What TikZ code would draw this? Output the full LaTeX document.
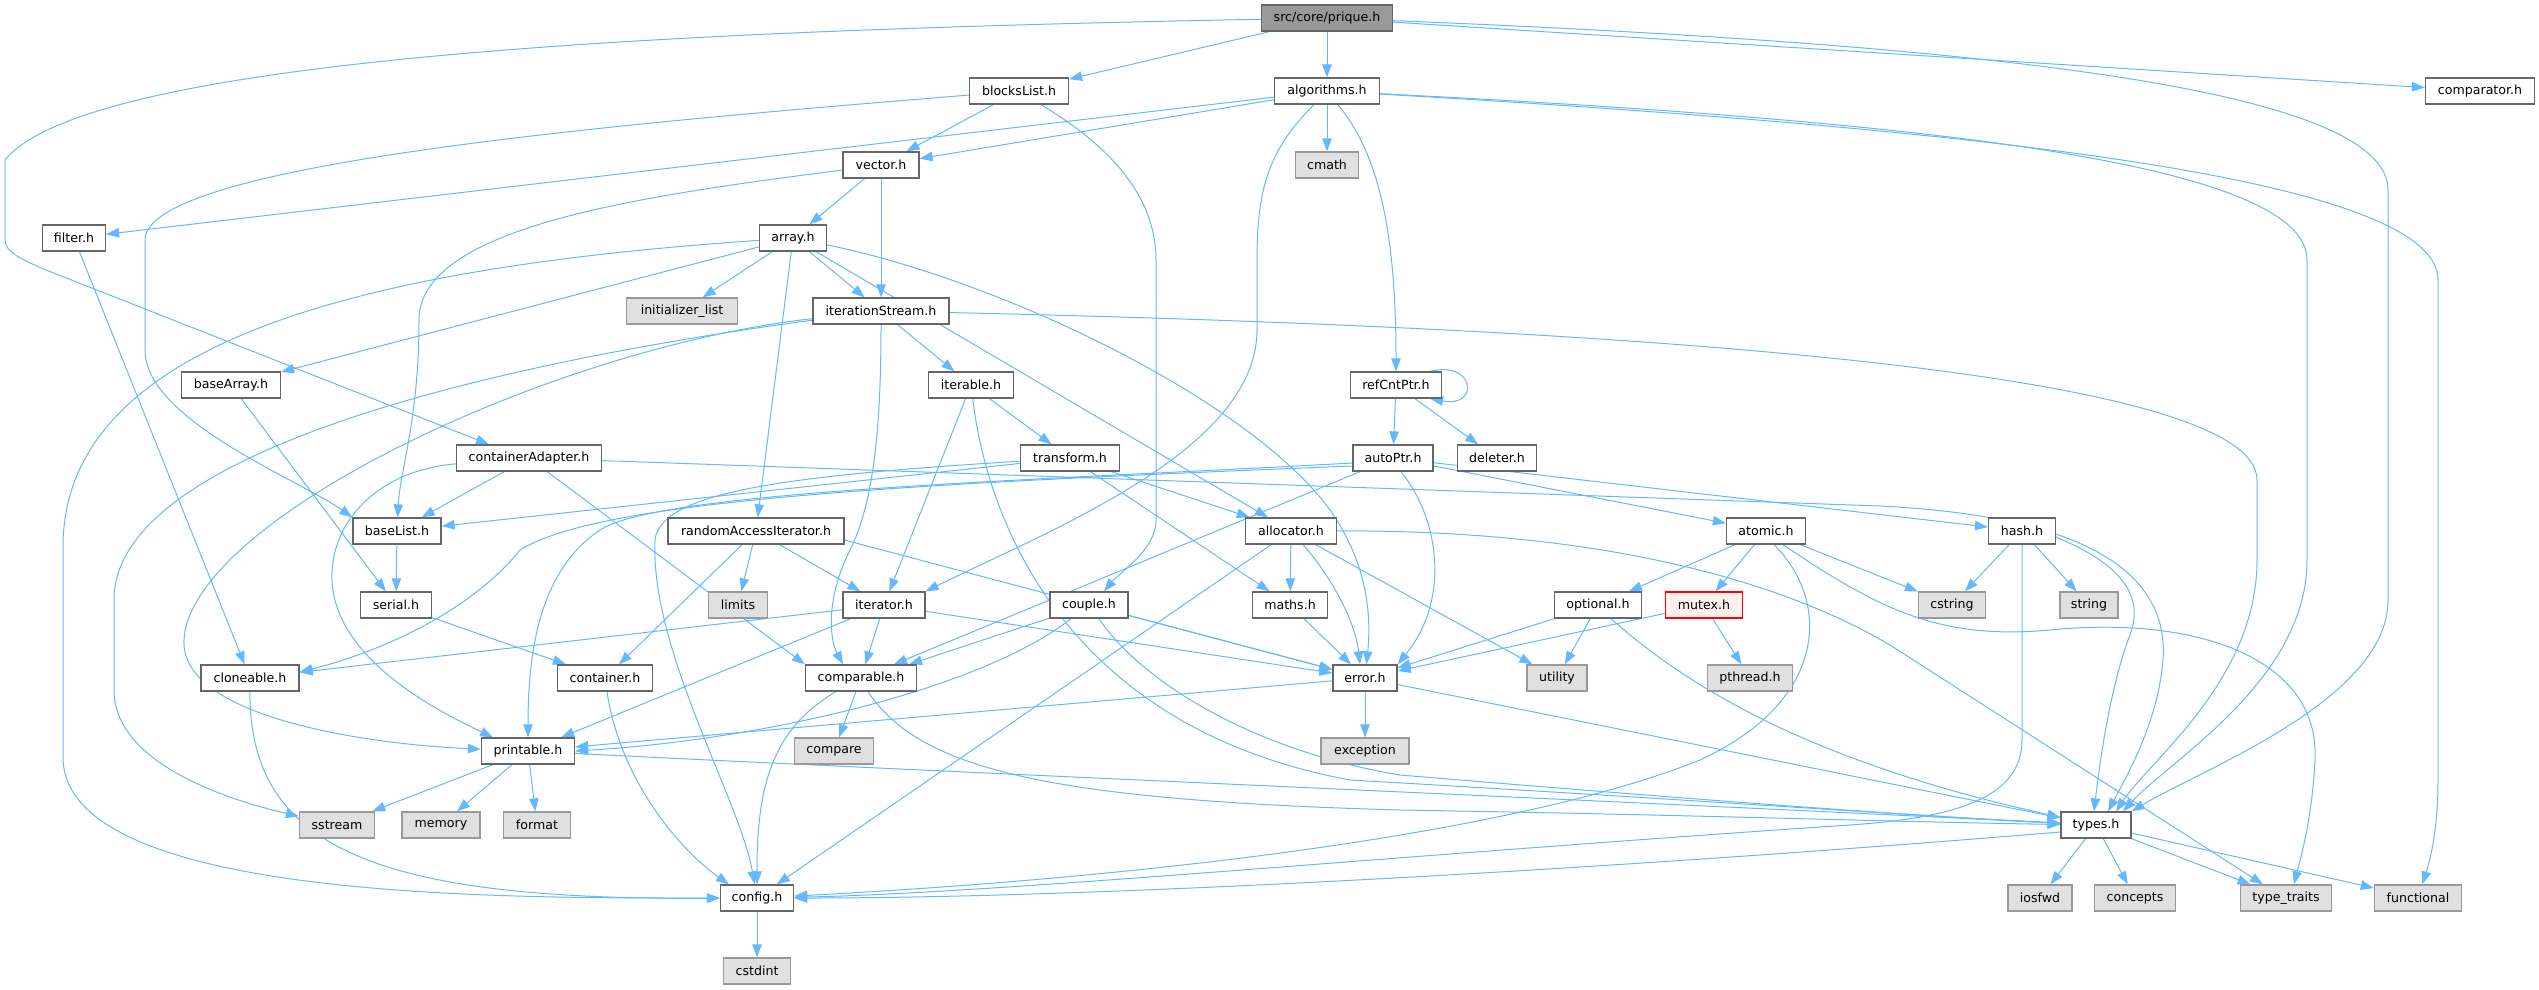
\documentclass[tikz,border=0pt]{standalone}
\usepackage{fontspec}
\setmainfont{DejaVu Sans}
\usepackage{xcolor}
\usetikzlibrary{arrows.meta}
\pgfdeclarelayer{background}
\pgfsetlayers{background,main}
\definecolor{edgeblue}{HTML}{63B8FF}
\definecolor{boxgray}{HTML}{666666}
\definecolor{sysgray}{HTML}{999999}
\definecolor{sysfill}{HTML}{E0E0E0}
\definecolor{rootfill}{HTML}{999999}
\definecolor{warnfill}{HTML}{FFF0F0}

\begin{document}
\begin{tikzpicture}[x=1pt, y=-1pt,
    hdr/.style={draw=boxgray, fill=white, line width=1.3pt, minimum height=26pt, inner sep=0pt, font=\fontsize{12.6}{15}\selectfont},
    syshdr/.style={hdr, draw=sysgray, fill=sysfill},
    roothdr/.style={hdr, fill=rootfill},
    warnhdr/.style={hdr, draw=red, fill=warnfill},
    inc/.style={draw=edgeblue, line width=1pt, -{Triangle[length=13pt,width=9.5pt]}}]
    \useasboundingbox (0,0) rectangle (2539,989);

    % Headers, row by row
    \node[roothdr, minimum width=131pt] (prique) at (1327,18) {src/core/prique.h};

    \node[hdr, minimum width=99pt] (blocksList) at (1019,91) {blocksList.h};
    \node[hdr, minimum width=105pt] (algorithms) at (1327,91) {algorithms.h};
    \node[hdr, minimum width=109pt] (comparator) at (2480,91) {comparator.h};

    \node[hdr, minimum width=76pt] (vector) at (881,165) {vector.h};
    \node[syshdr, minimum width=63pt] (cmath) at (1327,165) {cmath};

    \node[hdr, minimum width=63pt] (filter) at (74,238) {filter.h};
    \node[hdr, minimum width=67pt] (array) at (793,238) {array.h};

    \node[syshdr, minimum width=111pt] (initializer_list) at (682,311) {initializer\_list};
    \node[hdr, minimum width=136pt] (iterationStream) at (881,311) {iterationStream.h};

    \node[hdr, minimum width=99pt] (baseArray) at (231,385) {baseArray.h};
    \node[hdr, minimum width=85pt] (iterable) at (971,385) {iterable.h};
    \node[hdr, minimum width=91pt] (refCntPtr) at (1396,385) {refCntPtr.h};

    \node[hdr, minimum width=145pt] (containerAdapter) at (529,458) {containerAdapter.h};
    \node[hdr, minimum width=99pt] (transform) at (1070,458) {transform.h};
    \node[hdr, minimum width=80pt] (autoPtr) at (1393,458) {autoPtr.h};
    \node[hdr, minimum width=79pt] (deleter) at (1497,458) {deleter.h};

    \node[hdr, minimum width=88pt] (baseList) at (397,531) {baseList.h};
    \node[hdr, minimum width=176pt] (randomAccessIterator) at (756,531) {randomAccessIterator.h};
    \node[hdr, minimum width=91pt] (allocator) at (1291,531) {allocator.h};
    \node[hdr, minimum width=79pt] (atomic) at (1766,531) {atomic.h};
    \node[hdr, minimum width=67pt] (hash) at (2022,531) {hash.h};

    \node[hdr, minimum width=71pt] (serial) at (396,605) {serial.h};
    \node[syshdr, minimum width=59pt] (limits) at (738,605) {limits};
    \node[hdr, minimum width=82pt] (iterator) at (884,605) {iterator.h};
    \node[hdr, minimum width=78pt] (couple) at (1089,605) {couple.h};
    \node[hdr, minimum width=75pt] (maths) at (1290,605) {maths.h};
    \node[hdr, minimum width=87pt] (optional) at (1598,605) {optional.h};
    \node[warnhdr, minimum width=77pt] (mutex) at (1704,605) {mutex.h};
    \node[syshdr, minimum width=67pt] (cstring) at (1952,605) {cstring};
    \node[syshdr, minimum width=58pt] (string) at (2089,605) {string};

    \node[hdr, minimum width=98pt] (cloneable) at (250,678) {cloneable.h};
    \node[hdr, minimum width=95pt] (container) at (605,678) {container.h};
    \node[hdr, minimum width=111pt] (comparable) at (861,678) {comparable.h};
    \node[hdr, minimum width=64pt] (error) at (1365,678) {error.h};
    \node[syshdr, minimum width=60pt] (utility) at (1557,678) {utility};
    \node[syshdr, minimum width=85pt] (pthread) at (1750,678) {pthread.h};

    \node[hdr, minimum width=93pt] (printable) at (528,751) {printable.h};
    \node[syshdr, minimum width=79pt] (compare) at (834,751) {compare};
    \node[syshdr, minimum width=88pt] (exception) at (1365,751) {exception};

    \node[syshdr, minimum width=75pt] (sstream) at (337,825) {sstream};
    \node[syshdr, minimum width=78pt] (memory) at (441,825) {memory};
    \node[syshdr, minimum width=67pt] (format) at (537,825) {format};
    \node[hdr, minimum width=70pt] (types) at (2096,825) {types.h};

    \node[hdr, minimum width=73pt] (config) at (757,898) {config.h};
    \node[syshdr, minimum width=64pt] (iosfwd) at (2040,898) {iosfwd};
    \node[syshdr, minimum width=81pt] (concepts) at (2135,898) {concepts};
    \node[syshdr, minimum width=91pt] (type_traits) at (2286,898) {type\_traits};
    \node[syshdr, minimum width=87pt] (functional) at (2418,898) {functional};

    \node[syshdr, minimum width=67pt] (cstdint) at (757,971) {cstdint};

    \begin{pgfonlayer}{background}
    % prique.h
    \draw[inc] (prique) -- (blocksList);
    \draw[inc] (prique) -- (algorithms);
    \draw[inc] (prique) -- (comparator);
    \draw[inc] (prique) .. controls (700,30) and (90,55) .. (5,160) -- (5,240) .. controls (5,252) and (20,258) .. (41,268) -- ([xshift=-40pt]containerAdapter.north);
    \draw[inc] (prique) .. controls (2000,45) and (2388,90) .. (2388,190) -- (2388,600) .. controls (2388,700) and (2200,770) .. (types.north east);

    % algorithms.h
    \draw[inc] (algorithms) -- (vector);
    \draw[inc] (algorithms) -- (cmath);
    \draw[inc] (algorithms) -- (filter);
    \draw[inc] ([xshift=11pt]algorithms.south) .. controls (1375,150) and (1396,220) .. (refCntPtr);
    \draw[inc] ([xshift=-13pt]algorithms.south) .. controls (1268,150) and (1257,190) .. (1257,260) -- (1257,330) .. controls (1257,450) and (1050,530) .. (iterator.north east);
    \draw[inc] (algorithms) .. controls (1900,120) and (2307,160) .. (2307,260) -- (2307,560) .. controls (2307,680) and (2170,760) .. ([xshift=27pt]types.north);
    \draw[inc] (algorithms) .. controls (2000,130) and (2438,180) .. (2438,280) -- (2438,780) .. controls (2438,830) and (2430,860) .. (functional);

    % blocksList.h
    \draw[inc] (blocksList) -- (vector);
    \draw[inc] (blocksList) .. controls (600,125) and (145,165) .. (145,240) -- (145,350) .. controls (145,420) and (300,480) .. (baseList.north west);
    \draw[inc] ([xshift=22pt]blocksList.south) .. controls (1100,140) and (1156,190) .. (1156,260) -- (1156,520) .. controls (1156,550) and (1120,572) .. ([xshift=15pt]couple.north);

    % vector.h
    \draw[inc] (vector) -- (array);
    \draw[inc] (vector) -- (iterationStream);
    \draw[inc] (vector) .. controls (650,195) and (419,225) .. (419,320) .. controls (419,420) and (400,470) .. (baseList);

    % array.h
    \draw[inc] (array) -- (initializer_list);
    \draw[inc] (array) -- (iterationStream);
    \draw[inc] (array) -- (baseArray);
    \draw[inc] (array) -- (randomAccessIterator);
    \draw[inc] (array) -- (allocator);
    \draw[inc] (array) .. controls (1000,280) and (1250,400) .. (1330,510) .. controls (1365,560) and (1372,610) .. (error);
    \draw[inc] (array) .. controls (400,265) and (63,330) .. (63,547) -- (63,757) .. controls (63,900) and (500,898) .. (config);

    % iterationStream.h
    \draw[inc] (iterationStream) -- (iterable);
    \draw[inc] (iterationStream) .. controls (881,420) and (875,500) .. (850,550) .. controls (825,600) and (830,640) .. ([xshift=-18pt]comparable.north);
    \draw[inc] (iterationStream) .. controls (550,348) and (190,520) .. (184,640) .. controls (180,720) and (380,745) .. (printable);
    \draw[inc] (iterationStream) .. controls (500,362) and (114,450) .. (114,600) -- (114,690) .. controls (114,770) and (250,805) .. (sstream);
    \draw[inc] (iterationStream) .. controls (1500,325) and (2257,360) .. (2257,480) -- (2257,560) .. controls (2257,680) and (2150,760) .. ([xshift=20pt]types.north);

    % iterable.h
    \draw[inc] (iterable) -- (transform);
    \draw[inc] (iterable) -- (iterator);
    \draw[inc] (iterable) .. controls (990,540) and (1080,730) .. (1350,780) .. controls (1700,800) and (1900,815) .. (types);

    % refCntPtr.h
    \draw[inc] (refCntPtr) -- (autoPtr);
    \draw[inc] (refCntPtr) -- (deleter);
    \draw[inc] ([xshift=-12pt]refCntPtr.north east) .. controls (1475,360) and (1480,408) .. ([xshift=-12pt]refCntPtr.south east);

    % baseArray.h, baseList.h, serial.h
    \draw[inc] (baseArray) -- (serial);
    \draw[inc] (baseList) -- (serial);
    \draw[inc] (serial) -- (container);

    % containerAdapter.h
    \draw[inc] (containerAdapter) -- (baseList);
    \draw[inc] (containerAdapter) -- (comparable.north west);
    \draw[inc] (containerAdapter) .. controls (380,470) and (330,520) .. (332,580) .. controls (335,660) and (440,712) .. ([xshift=-35pt]printable.north);
    \draw[inc] (containerAdapter) -- (1880,506) .. controls (2060,515) and (2170,560) .. (2163,660) .. controls (2158,720) and (2130,770) .. ([xshift=12pt]types.north);

    % transform.h
    \draw[inc] (transform) -- (allocator);
    \draw[inc] (transform) -- (maths);
    \draw[inc] (transform) -- (baseList);
    \draw[inc] (transform) .. controls (800,475) and (660,490) .. (655,540) .. controls (650,650) and (740,800) .. (config);

    % autoPtr.h
    \draw[inc] (autoPtr) -- (atomic);
    \draw[inc] (autoPtr) -- (hash);
    \draw[inc] (autoPtr) -- (comparable);
    \draw[inc] ([xshift=8pt]autoPtr.south) .. controls (1440,520) and (1450,600) .. (error.north east);
    \draw[inc] ([yshift=-5pt]autoPtr.west) .. controls (1050,480) and (660,490) .. (600,530) .. controls (540,570) and (528,650) .. (printable);
    \draw[inc] ([yshift=-8pt]autoPtr.west) .. controls (900,484) and (600,500) .. (520,550) .. controls (470,612) and (380,652) .. ([yshift=6pt]cloneable.east);

    % randomAccessIterator.h
    \draw[inc] (randomAccessIterator) -- (limits);
    \draw[inc] (randomAccessIterator) -- (iterator);
    \draw[inc] (randomAccessIterator) -- (container);
    \draw[inc] ([yshift=-9pt]randomAccessIterator.east) -- (error);

    % allocator.h
    \draw[inc] (allocator) -- (maths);
    \draw[inc] (allocator) -- (utility);
    \draw[inc] (allocator) -- (config);
    \draw[inc] ([xshift=12pt]allocator.south) .. controls (1330,575) and (1355,620) .. ([xshift=-5pt]error.north);
    \draw[inc] (allocator) .. controls (1600,530) and (1780,580) .. (1890,645) -- ([xshift=-23pt]type_traits.north);

    % atomic.h
    \draw[inc] (atomic) -- (optional);
    \draw[inc] (atomic) -- (mutex);
    \draw[inc] (atomic) -- (cstring);
    \draw[inc] ([xshift=17pt]atomic.south) .. controls (1880,610) and (1940,640) .. (2050,630) .. controls (2200,615) and (2320,660) .. (2315,760) .. controls (2312,820) and (2300,860) .. ([xshift=8pt]type_traits.north);
    \draw[inc] ([xshift=8pt]atomic.south) .. controls (1830,600) and (1830,700) .. (1700,760) .. controls (1500,840) and (1100,880) .. (config);

    % hash.h
    \draw[inc] (hash) -- (cstring);
    \draw[inc] (hash) -- (string);
    \draw[inc] ([yshift=-6pt]hash.east) .. controls (2110,560) and (2150,590) .. (2128,640) .. controls (2110,690) and (2100,760) .. ([xshift=-2pt]types.north);
    \draw[inc] (hash) -- (2022,740) .. controls (2022,800) and (1950,818) .. (1850,825) .. controls (1400,855) and (1000,893) .. (config);

    % couple.h
    \draw[inc] (couple) -- ([xshift=-8pt]comparable.north east);
    \draw[inc] (couple) -- (error);
    \draw[inc] ([xshift=-18pt]couple.south) .. controls (980,690) and (760,740) .. (printable.east);
    \draw[inc] ([xshift=10pt]couple.south) .. controls (1140,680) and (1250,750) .. (1400,775) .. controls (1700,800) and (1900,815) .. (types);

    % iterator.h
    \draw[inc] (iterator) -- (cloneable);
    \draw[inc] (iterator) -- (comparable);
    \draw[inc] (iterator) -- (printable);
    \draw[inc] (iterator) -- (error);

    % maths.h, optional.h, mutex.h
    \draw[inc] (maths) -- (error);
    \draw[inc] (optional) -- (error);
    \draw[inc] (optional) -- (utility);
    \draw[inc] ([xshift=13pt]optional.south) .. controls (1680,680) and (1800,760) .. (types);
    \draw[inc] (mutex) -- (error);
    \draw[inc] (mutex) -- (pthread);

    % filter.h, cloneable.h, container.h
    \draw[inc] (filter) -- (cloneable);
    \draw[inc] (cloneable) .. controls (249,850) and (380,900) .. (config);
    \draw[inc] (container) .. controls (620,780) and (680,850) .. ([xshift=-28pt]config.north);

    % comparable.h
    \draw[inc] (comparable) -- (compare);
    \draw[inc] ([xshift=-25pt]comparable.south) .. controls (770,730) and (757,790) .. (config);
    \draw[inc] ([xshift=7pt]comparable.south) .. controls (920,770) and (1050,800) .. (1400,810) .. controls (1700,815) and (1900,822) .. (types);

    % error.h
    \draw[inc] (error) -- (exception);
    \draw[inc] (error) -- (printable);
    \draw[inc] (error) -- (types);

    % printable.h
    \draw[inc] (printable) -- (sstream);
    \draw[inc] (printable) -- (memory);
    \draw[inc] (printable) -- (format);
    \draw[inc] (printable) .. controls (900,770) and (1600,800) .. (types);

    % types.h
    \draw[inc] ([yshift=-7pt]types.west) .. controls (1600,870) and (1100,898) .. (config);
    \draw[inc] (types) -- (iosfwd);
    \draw[inc] (types) -- (concepts);
    \draw[inc] (types) -- (type_traits);
    \draw[inc] (types) -- (functional);

    % config.h
    \draw[inc] (config) -- (cstdint);
    \end{pgfonlayer}
\end{tikzpicture}
\end{document}
